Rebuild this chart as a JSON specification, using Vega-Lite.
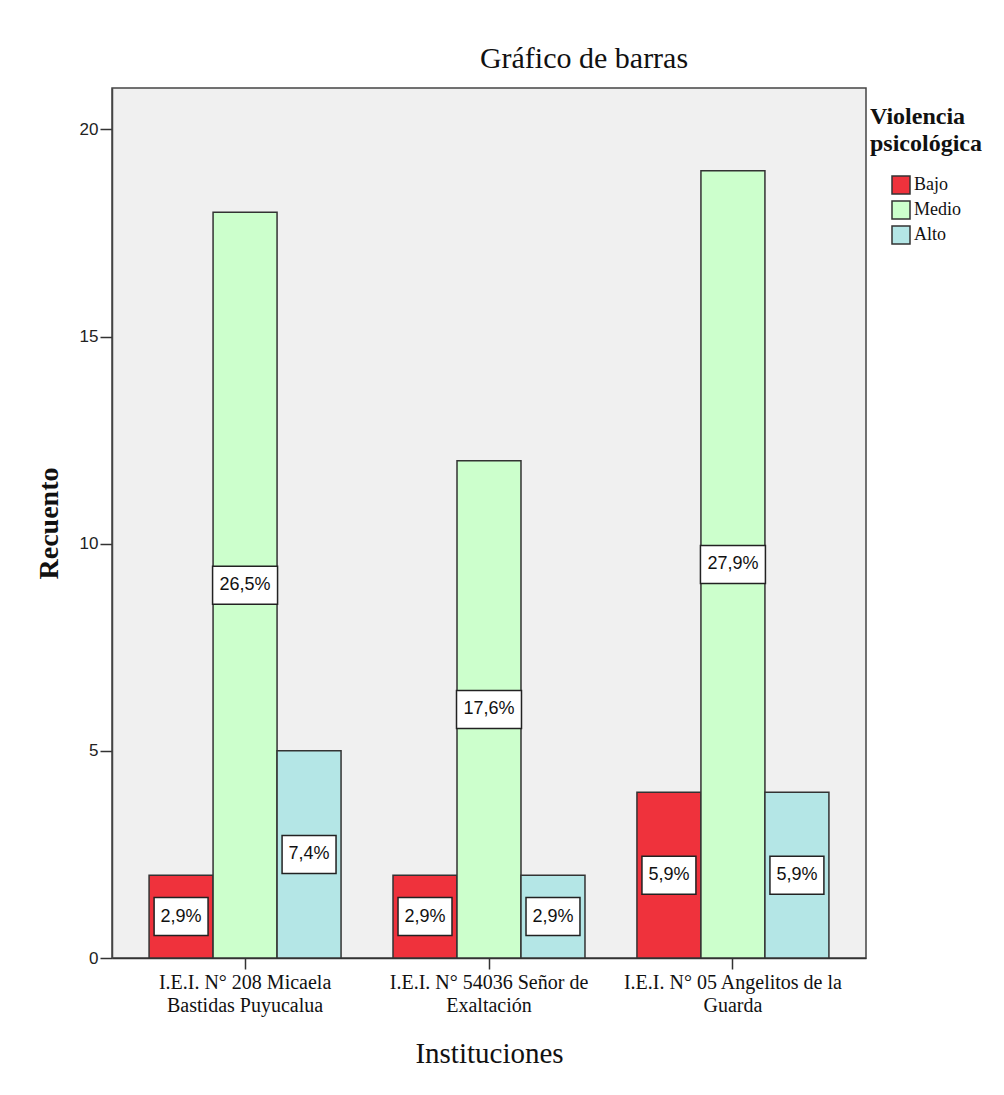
{
  "$schema": "https://vega.github.io/schema/vega-lite/v6.json",
  "width": 754,
  "height": 870,
  "autosize": "none",
  "padding": {"left": 112, "top": 88, "right": 138, "bottom": 137},
  "background": "white",
  "config": {
    "view": {"fill": "#F0F0F0", "stroke": "#444444", "strokeWidth": 1.5}
  },
  "title": {
    "text": "Gráfico de barras",
    "font": "Liberation Serif",
    "fontSize": 30,
    "fontWeight": "normal",
    "color": "#111111",
    "anchor": "middle",
    "frame": "group",
    "dx": 95,
    "offset": 14
  },
  "data": {
    "values": [
      {"inst": "I.E.I. N° 208 Micaela\nBastidas Puyucalua", "nivel": "Bajo", "recuento": 2, "pct": "2,9%"},
      {"inst": "I.E.I. N° 208 Micaela\nBastidas Puyucalua", "nivel": "Medio", "recuento": 18, "pct": "26,5%"},
      {"inst": "I.E.I. N° 208 Micaela\nBastidas Puyucalua", "nivel": "Alto", "recuento": 5, "pct": "7,4%"},
      {"inst": "I.E.I. N° 54036 Señor de\nExaltación", "nivel": "Bajo", "recuento": 2, "pct": "2,9%"},
      {"inst": "I.E.I. N° 54036 Señor de\nExaltación", "nivel": "Medio", "recuento": 12, "pct": "17,6%"},
      {"inst": "I.E.I. N° 54036 Señor de\nExaltación", "nivel": "Alto", "recuento": 2, "pct": "2,9%"},
      {"inst": "I.E.I. N° 05 Angelitos de la\nGuarda", "nivel": "Bajo", "recuento": 4, "pct": "5,9%"},
      {"inst": "I.E.I. N° 05 Angelitos de la\nGuarda", "nivel": "Medio", "recuento": 19, "pct": "27,9%"},
      {"inst": "I.E.I. N° 05 Angelitos de la\nGuarda", "nivel": "Alto", "recuento": 4, "pct": "5,9%"}
    ]
  },
  "encoding": {
    "x": {
      "field": "inst",
      "type": "nominal",
      "sort": null,
      "scale": {"paddingInner": 0.213, "paddingOuter": 0.152},
      "axis": {
        "title": "Instituciones",
        "titleFont": "Liberation Serif",
        "titleFontSize": 29,
        "titleFontWeight": "normal",
        "titleColor": "#111111",
        "titlePadding": 24,
        "labelExpr": "split(datum.value, '\\n')",
        "labelAngle": 0,
        "labelLimit": 0,
        "labelFont": "Liberation Serif",
        "labelFontSize": 20,
        "labelColor": "#111111",
        "labelLineHeight": 23,
        "labelPadding": 3,
        "tickSize": 11,
        "tickColor": "#333333",
        "tickWidth": 1.5,
        "domainColor": "#333333",
        "domainWidth": 1.5
      }
    },
    "xOffset": {
      "field": "nivel",
      "type": "nominal",
      "sort": ["Bajo", "Medio", "Alto"],
      "scale": {"paddingInner": 0, "paddingOuter": 0}
    }
  },
  "layer": [
    {
      "mark": {"type": "bar", "stroke": "#333333", "strokeWidth": 1.5, "opacity": 1},
      "encoding": {
        "y": {
          "field": "recuento",
          "type": "quantitative",
          "scale": {"domain": [0, 21], "nice": false},
          "axis": {
            "title": "Recuento",
            "titleFont": "Liberation Serif",
            "titleFontSize": 28,
            "titleFontWeight": "bold",
            "titleColor": "#111111",
            "titlePadding": 16,
            "values": [0, 5, 10, 15, 20],
            "grid": false,
            "labelFont": "Liberation Sans",
            "labelFontSize": 17,
            "labelColor": "#222222",
            "labelPadding": 2,
            "tickSize": 12,
            "tickColor": "#333333",
            "tickWidth": 1.5,
            "domainColor": "#444444",
            "domainWidth": 1.5
          }
        },
        "color": {
          "field": "nivel",
          "type": "nominal",
          "sort": ["Bajo", "Medio", "Alto"],
          "scale": {"domain": ["Bajo", "Medio", "Alto"], "range": ["#EF323C", "#CCFFCC", "#B4E6E6"]},
          "legend": {
            "title": ["Violencia", "psicológica"],
            "orient": "none",
            "legendX": 758,
            "legendY": 17,
            "titleFont": "Liberation Serif",
            "titleFontSize": 24,
            "titleFontWeight": "bold",
            "titleColor": "#111111",
            "titleLineHeight": 27,
            "titlePadding": 19,
            "labelFont": "Liberation Serif",
            "labelFontSize": 18,
            "labelColor": "#111111",
            "labelOffset": 3,
            "symbolType": "square",
            "symbolSize": 324,
            "symbolOffset": 21,
            "symbolStrokeColor": "#333333",
            "symbolStrokeWidth": 1.5,
            "symbolOpacity": 1,
            "rowPadding": 1
          }
        }
      }
    },
    {
      "transform": [
        {"calculate": "datum.recuento / 2", "as": "mid"},
        {"filter": "length(datum.pct) <= 4"}
      ],
      "mark": {"type": "point", "shape": "M-1.42,-1H1.42V1H-1.42Z", "filled": true, "fill": "white", "stroke": "#222222", "strokeWidth": 1.5, "size": 1444, "opacity": 1},
      "encoding": {"y": {"field": "mid", "type": "quantitative"}}
    },
    {
      "transform": [
        {"calculate": "datum.recuento / 2", "as": "mid"},
        {"filter": "length(datum.pct) > 4"}
      ],
      "mark": {"type": "point", "shape": "M-1.71,-1H1.71V1H-1.71Z", "filled": true, "fill": "white", "stroke": "#222222", "strokeWidth": 1.5, "size": 1444, "opacity": 1},
      "encoding": {"y": {"field": "mid", "type": "quantitative"}}
    },
    {
      "transform": [{"calculate": "datum.recuento / 2", "as": "mid"}],
      "mark": {"type": "text", "font": "Liberation Sans", "fontSize": 18, "color": "#111111", "baseline": "middle", "align": "center"},
      "encoding": {
        "y": {"field": "mid", "type": "quantitative"},
        "text": {"field": "pct", "type": "nominal"}
      }
    }
  ]
}
